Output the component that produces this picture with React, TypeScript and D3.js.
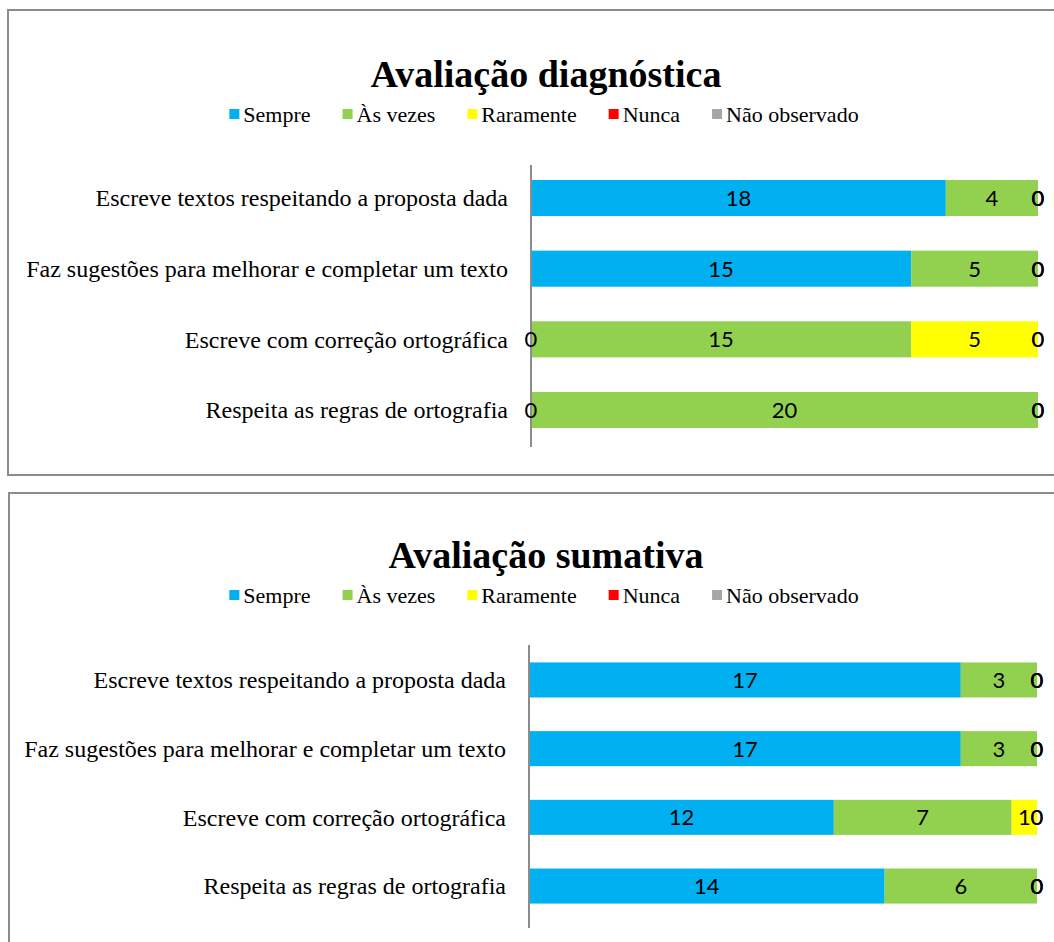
import React, { useEffect, useRef } from "react";
import * as d3 from "d3";

const series = ["Sempre", "Às vezes", "Raramente", "Nunca", "Não observado"];
const colors = ["#00B0F0", "#92D050", "#FFFF00", "#FF0000", "#A6A6A6"];
const categories = [
  "Escreve textos respeitando a proposta dada",
  "Faz sugestões para melhorar e completar um texto",
  "Escreve com correção ortográfica",
  "Respeita as regras de ortografia",
];
// values per category (rows) per series (columns)
const diagnosticaValues = [
  [18, 4, 0, 0, 0],
  [15, 5, 0, 0, 0],
  [0, 15, 5, 0, 0],
  [0, 20, 0, 0, 0],
];
const sumativaValues = [
  [17, 3, 0, 0, 0],
  [17, 3, 0, 0, 0],
  [12, 7, 1, 0, 0],
  [14, 6, 0, 0, 0],
];
const titles = ["Avaliação diagnóstica", "Avaliação sumativa"];

const serif = "'Liberation Serif', 'Times New Roman', serif";
const sans = "Lato, Carlito, Calibri, sans-serif";

type Panel = {
  title: string;
  values: number[][];
  top: number;
  height: number;
  left: number;
  titleY: number;
  legendY: number;
  x0: number;
  x1: number;
  yStart: number;
  yEnd: number;
  axisTop: number;
  axisBottom: number;
};

const panels: Panel[] = [
  {
    title: titles[0], values: diagnosticaValues, top: 10, height: 465, left: 8,
    titleY: 87, legendY: 114, x0: 531, x1: 1038, yStart: 162.7, yEnd: 445.3,
    axisTop: 165, axisBottom: 447,
  },
  {
    title: titles[1], values: sumativaValues, top: 493, height: 480, left: 9,
    titleY: 568, legendY: 595, x0: 529, x1: 1037, yStart: 645.6, yEnd: 920.4,
    axisTop: 645, axisBottom: 928,
  },
];

export default function App() {
  const ref = useRef<SVGSVGElement>(null);
  useEffect(() => {
    const svg = d3.select(ref.current);
    svg.selectAll("*").remove();
    const canvas = document.createElement("canvas");
    const ctx = canvas.getContext("2d")!;
    ctx.font = `22px ${serif}`;

    panels.forEach((p) => {
      const g = svg.append("g");
      g.append("rect")
        .attr("x", p.left).attr("y", p.top)
        .attr("width", 1100).attr("height", p.height)
        .attr("fill", "#fff").attr("stroke", "#8c8c8c").attr("stroke-width", 2);

      g.append("text")
        .attr("x", 546).attr("y", p.titleY)
        .attr("text-anchor", "middle")
        .attr("font-family", serif).attr("font-weight", "bold")
        .attr("font-size", 38).attr("fill", "#000")
        .text(p.title);

      // legend
      const sq = 10, gapSq = 4, gapItem = 32;
      const widths = series.map((s) => ctx.measureText(s).width);
      const total = d3.sum(widths) + series.length * (sq + gapSq) + (series.length - 1) * gapItem;
      let lx = 544 - total / 2;
      series.forEach((s, i) => {
        g.append("rect").attr("x", lx).attr("y", p.legendY - 5)
          .attr("width", sq).attr("height", sq).attr("fill", colors[i]);
        g.append("text").attr("x", lx + sq + gapSq).attr("y", p.legendY)
          .attr("dy", "0.35em").attr("font-family", serif).attr("font-size", 22)
          .attr("fill", "#000").text(s);
        lx += sq + gapSq + widths[i] + gapItem;
      });

      const y = d3.scaleBand<string>().domain(categories)
        .range([p.yStart, p.yEnd]).paddingInner(0.49).paddingOuter(0.245);
      const x = d3.scaleLinear().domain([0, 1]).range([p.x0, p.x1]);

      // stacked 100%
      const rows = p.values.map((vals, ci) => {
        const tot = d3.sum(vals);
        let acc = 0;
        return vals.map((v, si) => {
          const a = acc / tot;
          acc += v;
          return { cat: categories[ci], si, v, a, b: acc / tot };
        });
      });

      rows.forEach((segs) => {
        segs.forEach((s) => {
          if (s.v > 0) {
            g.append("rect")
              .attr("x", x(s.a)).attr("y", y(s.cat)!)
              .attr("width", x(s.b) - x(s.a)).attr("height", y.bandwidth())
              .attr("fill", colors[s.si]);
          }
        });
      });

      // axis
      g.append("line").attr("x1", p.x0).attr("x2", p.x0)
        .attr("y1", p.axisTop).attr("y2", p.axisBottom)
        .attr("stroke", "#8c8c8c").attr("stroke-width", 2);

      // category labels
      categories.forEach((c) => {
        g.append("text").attr("x", p.x0 - 23).attr("y", y(c)! + y.bandwidth() / 2)
          .attr("dy", "0.35em").attr("text-anchor", "end")
          .attr("font-family", serif).attr("font-size", 24).attr("fill", "#000")
          .text(c);
      });

      // data labels
      rows.forEach((segs) => {
        segs.forEach((s) => {
          g.append("text")
            .attr("x", (x(s.a) + x(s.b)) / 2)
            .attr("y", y(s.cat)! + y.bandwidth() / 2)
            .attr("dy", "0.36em").attr("text-anchor", "middle")
            .attr("font-family", sans).attr("font-size", 22).attr("fill", "#000")
            .text(String(s.v));
        });
      });
    });
  }, []);

  return (
    <svg
      ref={ref}
      width={1054}
      height={942}
      style={{ position: "absolute", left: 0, top: 0, background: "#fff" }}
    />
  );
}
